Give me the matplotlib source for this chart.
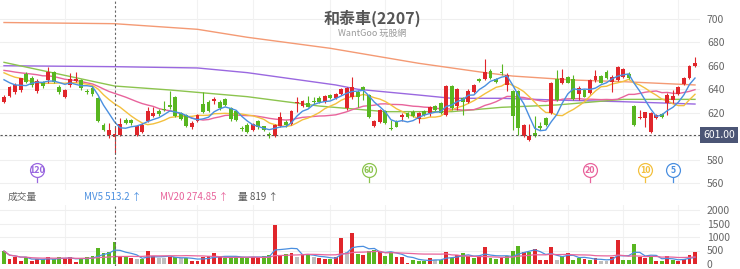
import numpy as np
import pandas as pd
import matplotlib
matplotlib.use('Agg')
import matplotlib.pyplot as plt
import matplotlib.transforms as mtransforms

plt.rcParams['font.family'] = ['Noto Sans CJK TC', 'DejaVu Sans']

###### values ######

# daily candles (red = close above open, green = close below open)
opens = [629.5, 634.6, 637.4, 639.4, 652.8, 649.4, 638.5, 646, 648, 655,
         642.3, 633.7, 643.7, 647, 648, 638.5, 640.8, 632.3, 609.5, 601,
         599.6, 601, 613.8, 613.8, 601, 603.5, 613, 617.2, 621.5, 623.5,
         626.6, 633.2, 619.7, 618, 607.5, 613.2, 627.4, 629.4, 630, 629.4,
         631.4, 623.8, 621.5, 607.2, 609.5, 605.2, 613.2, 608.3, 601.5, 600.1,
         608.7, 612.3, 610.4, 628.5, 625.7, 628.5, 630, 632.8, 629.4, 635.1,
         632.3, 635.7, 623.8, 633, 638, 642.3, 635.1, 608.7, 612.3, 621.5,
         607, 612.3, 616.6, 620, 620.9, 614.4, 621.5, 619.5, 625.7, 628,
         618, 642.6, 625.7, 632.3, 629.4, 638, 648.5, 648.8, 655.6, 648.5,
         655, 643.7, 638.8, 638.8, 600.1, 596.7, 603, 608.7, 615.2, 619.5,
         648.5, 645.1, 650.2, 648.5, 636, 639.4, 636.6, 647.9, 651.3, 655,
         646.5, 647.9, 650.2, 653, 625.7, 615.2, 615.2, 603.8, 615.2, 618.9,
         628, 630.8, 636, 644.5, 649.4, 659.9]
highs = [635, 643, 645, 650, 655, 651, 649, 647, 659, 656,
         643.5, 640.5, 653.5, 655, 649, 640.5, 643, 633, 611, 611,
         607.8, 615.5, 615.5, 615, 609.5, 611, 625, 624.6, 623.5, 630,
         638.8, 634, 620.5, 619, 612.5, 619, 638, 630.5, 633.5, 630.5,
         632.5, 625, 622.5, 608.5, 611, 611.5, 614, 609, 603.5, 610.5,
         621, 613.5, 622.5, 633.7, 631, 634, 633.7, 634, 635.5, 636,
         636.8, 641, 642, 650.2, 639.4, 643, 636, 614, 623, 622.5,
         613.8, 613.8, 620, 621, 622, 621, 622.5, 625.5, 626.5, 629,
         643.5, 643.5, 641, 633.7, 640, 644.5, 649.5, 665.6, 657, 649.5,
         661.6, 653.6, 639.5, 639.5, 610.5, 610.4, 617.2, 612.3, 616, 646,
         656.5, 657.3, 651, 652.2, 643, 640.5, 649, 656.4, 652, 656.5,
         652.2, 660, 658, 655, 627, 622.3, 621, 620.5, 619, 620,
         636.6, 639.4, 643, 650.5, 661, 667.3]
lows = [628, 633, 636, 638, 645, 642, 636.5, 641.5, 645, 645,
        636, 632.5, 642.3, 646.5, 639.5, 636, 634.5, 612, 604, 598,
        585.6, 600, 610, 609.5, 600.5, 602.5, 612, 616.5, 617.5, 621.5,
        623.5, 616, 613.5, 607.5, 606.5, 612, 620, 620.5, 627.5, 622.5,
        625.5, 613, 612.5, 604.8, 602.5, 604, 606.5, 604, 598.5, 599,
        608, 608, 609.5, 620.9, 624.5, 624.5, 627.5, 628.5, 628.5, 631.5,
        631.5, 635, 622.5, 632, 625.1, 630.8, 615.5, 608, 611.5, 610.5,
        605.2, 607.5, 613, 615.5, 616, 611.5, 617, 617, 621.5, 618.5,
        617, 622.5, 622.3, 618, 628.5, 637, 646, 648, 648.5, 645.5,
        652.2, 638.8, 605.2, 601, 599, 596, 599.5, 605.2, 608.5, 618.5,
        630, 644.5, 645, 630.8, 630.8, 633, 636, 646.5, 645, 648.5,
        638, 647, 649.5, 649, 608.5, 614.4, 608, 603, 614.5, 615.5,
        618, 628, 635, 643.5, 648.5, 659]
closes = [633.7, 642.3, 643.7, 649.4, 646.5, 643.7, 647, 642.8, 655, 646.5,
          637.4, 639.4, 648.8, 648.8, 640.8, 637.5, 635.7, 613, 605.3, 605.3,
          601.5, 610.4, 611.2, 611.5, 608.7, 609.5, 621.5, 620, 618.9, 622.5,
          624.6, 617.2, 614.6, 608.7, 611.5, 618, 620.9, 621.7, 631.7, 623.8,
          626.6, 614.4, 613.8, 606.2, 603.8, 610.4, 607.5, 605.2, 600.8, 609.5,
          616.1, 609.5, 621.5, 629.4, 630, 625.1, 628.8, 629.4, 634.3, 632.3,
          635.7, 640, 640.8, 642, 633.7, 639.4, 616.6, 613.2, 622.3, 611.5,
          606.4, 608, 618, 616.6, 617.2, 620, 618, 624.6, 622.3, 619.5,
          642.6, 623.8, 640, 629.4, 638.8, 643.7, 647.3, 655, 649.4, 646.5,
          653.6, 652.2, 617.2, 606.7, 609.5, 600.1, 600.1, 606.7, 609.5, 645.1,
          630.8, 649.4, 645.6, 631.4, 640.8, 633.7, 647.9, 651.3, 645.6, 649.4,
          650.2, 659.3, 657.3, 649.4, 609.5, 616.6, 620.4, 619.5, 618, 616.1,
          635.1, 634.3, 641.7, 649.4, 659.9, 662.7]
# closes just before the visible window (for the short moving averages)
pre_close = [655, 660, 662, 657, 654, 659, 661, 656, 658, 660,
             663, 661, 658, 660, 658, 655, 653, 651, 648]

# long moving averages, read at a few candles
ma240_idx = [0, 20, 35, 44, 59, 75, 87, 92, 103, 112, 125]
ma240 = [697, 696, 691.2, 684.4, 675, 662.2, 654.2, 651.3, 647.9, 646.5, 643.7]
ma120_idx = [0, 20, 35, 44, 60, 64, 75, 81, 90, 100, 112, 125]
ma120 = [660.1, 659.3, 658.2, 654.2, 643.7, 640, 635.1, 632.3, 632.3, 630.8, 629.4, 627.4]
ma60_idx = [0, 20, 30, 44, 57, 69, 81, 90, 100, 112, 125]
ma60 = [663, 642.8, 639.4, 633.7, 625.7, 620.9, 620.9, 624.6, 626.6, 631.4, 631.4]

# volume (lots) and colour vs previous close: r up, g down, n flat
volume = [481, 173, 247, 123, 247, 123, 173, 173, 247, 173,
          247, 210, 247, 86, 210, 247, 296, 580, 420, 457,
          819, 247, 247, 210, 173, 173, 481, 296, 210, 210,
          272, 247, 210, 210, 123, 123, 272, 296, 395, 247,
          210, 272, 296, 272, 210, 247, 272, 296, 333, 1444,
          333, 370, 420, 272, 333, 370, 247, 210, 173, 173,
          272, 951, 457, 1160, 370, 333, 500, 518, 494, 296,
          457, 272, 272, 49, 148, 123, 123, 210, 148, 148,
          457, 210, 333, 395, 296, 235, 272, 642, 210, 173,
          210, 296, 481, 667, 457, 457, 556, 148, 148, 617,
          148, 296, 395, 148, 210, 185, 148, 210, 111, 111,
          247, 889, 148, 148, 728, 247, 210, 296, 111, 111,
          296, 148, 111, 173, 333, 457]
vol_dir = list('grrrgrrgrg' 'grrrgggggg' 'grgrngrrnn' 'rgngrrrrrr' 'gggggrrggr'
               'rgrnrgnrrg' 'rrnrgrggrg' 'grrrgggrng' 'rgrgrgrrgg' 'rgggrgrrrr'
               'ngrggrgrnn' 'rrgggrrgrg' 'rgrrrr')

# moving-average markers under the candles
mark_labels = ['120', '60', '20', '10', '5']
mark_idx = [6, 66, 106, 116, 121]

cross_idx = 20
cross_price = 601.00
vgrid_idx = [11, 35, 45, 59, 69, 79, 92, 102, 112, 122]

price_ticks = [700, 680, 660, 640, 620, 600, 580, 560]
vol_ticks = [2000, 1500, 1000, 500, 0]

###### colours ######
RED = '#e0262b'
GREEN = '#58b620'
GREY = '#bdbdbd'
c_ma = {'5': '#4a8fe0', '10': '#f3c03e', '20': '#e8649c',
        '60': '#8cc44e', '120': '#9a68e0', '240': '#f49a74'}

n = len(closes)
idx = np.arange(n)
o = np.array(opens); h = np.array(highs); l = np.array(lows); c = np.array(closes)

allc = pd.Series(pre_close + closes)
ma5 = allc.rolling(5).mean().values[len(pre_close):]
ma10 = allc.rolling(10).mean().values[len(pre_close):]
ma20 = allc.rolling(20).mean().values[len(pre_close):]

vol = pd.Series(volume)
mv5 = vol.rolling(5, min_periods=1).mean().values
mv20 = vol.rolling(20, min_periods=1).mean().values

fig = plt.figure(figsize=(7.4, 2.69), dpi=100)
ax = fig.add_axes([0, 1 - 190/269, 700/740, 190/269])
axv = fig.add_axes([0, 1 - 266/269, 700/740, 61/269])

xlim = (-4/5.528, (700 - 4)/5.528)

###### price pane ######
for t in price_ticks:
    ax.axhline(t, color='#efefef', lw=0.8, zorder=0)
for g in vgrid_idx:
    ax.axvline(g, color='#f2f2f2', lw=0.8, zorder=0)
    axv.axvline(g, color='#f2f2f2', lw=0.8, zorder=0)

col = np.where(c >= o, RED, GREEN)
ax.vlines(idx, l, h, colors=col, lw=0.8, zorder=3)
body_lo = np.minimum(o, c)
body_h = np.maximum(np.abs(c - o), 0.6)
ax.bar(idx, body_h, bottom=body_lo, width=0.7, color=col, zorder=4)

ax.plot(ma240_idx, ma240, color=c_ma['240'], lw=1.0, zorder=2)
ax.plot(ma120_idx, ma120, color=c_ma['120'], lw=1.0, zorder=2)
ax.plot(ma60_idx, ma60, color=c_ma['60'], lw=1.0, zorder=2)
ax.plot(idx, ma20, color=c_ma['20'], lw=1.0, zorder=2)
ax.plot(idx, ma10, color=c_ma['10'], lw=1.0, zorder=2)
ax.plot(idx, ma5, color=c_ma['5'], lw=1.0, zorder=5)

for lab, mi in zip(mark_labels, mark_idx):
    ax.plot([mi, mi], [565.4, 560.8], color=c_ma[lab], lw=0.9, zorder=5)
    ax.plot(mi, 571.2, 'o', ms=10, mfc='white', mec=c_ma[lab], mew=0.9, zorder=6)
    ax.text(mi, 571.0, lab, color=c_ma[lab], fontsize=5.5, ha='center', va='center',
            fontweight='bold', zorder=7, family='DejaVu Sans')

ax.axhline(cross_price, color='#555555', lw=0.8, ls=(0, (2, 2)), zorder=6)
ax.axvline(cross_idx, color='#666666', lw=0.8, ls=(0, (2, 2)), zorder=6)
trans = mtransforms.blended_transform_factory(ax.transAxes, ax.transData)
ax.text(1.0 + 3/700, cross_price, '%.2f' % cross_price, transform=trans, color='white',
        fontsize=7.5, ha='left', va='center', zorder=8,
        bbox=dict(boxstyle='square,pad=0.3', fc='#4b5575', ec='none'))

ax.set_xlim(*xlim)
ax.set_ylim(700 - (190 - 19)/1.1714, 700 + 19/1.1714)
ax.set_yticks(price_ticks)
# the 600 label sits under the crosshair price box
ax.set_yticklabels(['' if abs(t - cross_price) < 8 else str(t) for t in price_ticks])
ax.yaxis.tick_right()
ax.tick_params(axis='y', length=0, pad=5, labelsize=7.5, labelcolor='#666666')
ax.set_xticks([])
for s in ax.spines.values():
    s.set_visible(False)
ax.patch.set_alpha(0)

###### volume pane ######
for t in vol_ticks[:-1]:
    axv.axhline(t, color='#efefef', lw=0.8, zorder=0)
vcol = [RED if d == 'r' else GREEN if d == 'g' else GREY for d in vol_dir]
axv.bar(idx, volume, width=0.7, color=vcol, zorder=3)
axv.plot(idx, mv5, color=c_ma['5'], lw=0.9, zorder=4)
axv.plot(idx, mv20, color=c_ma['20'], lw=0.9, zorder=4)
axv.axvline(cross_idx, color='#666666', lw=0.8, ls=(0, (2, 2)), zorder=6)
axv.set_xlim(*xlim)
axv.set_ylim(-(266 - 264)/0.027, (264 - 205)/0.027)
axv.set_yticks(vol_ticks)
axv.yaxis.tick_right()
axv.tick_params(axis='y', length=0, pad=5, labelsize=7.5, labelcolor='#666666')
for lab in axv.get_yticklabels():
    lab.set_horizontalalignment('left')
axv.set_xticks([])
for s in axv.spines.values():
    s.set_visible(False)
axv.patch.set_alpha(0)

###### texts ######
fig.text(372/740, 1 - 18/269, '和泰車(2207)', ha='center', va='center', fontsize=11.5,
         fontweight='bold', color='#555555')
fig.text(372/740, 1 - 33/269, 'WantGoo 玩股網', ha='center', va='center', fontsize=6.5,
         color='#9a9a9a')

yh = 1 - 197/269
fig.text(8/740, yh, '成交量', ha='left', va='center', fontsize=7, color='#666666')
fig.text(84/740, yh, 'MV5 513.2 ↑', ha='left', va='center', fontsize=7, color=c_ma['5'])
fig.text(160/740, yh, 'MV20 274.85 ↑', ha='left', va='center', fontsize=7, color=c_ma['20'])
fig.text(238/740, yh, '量 %d ↑' % volume[cross_idx], ha='left', va='center', fontsize=7,
         color='#555555')

plt.savefig('out.png', dpi=100, facecolor='w')
